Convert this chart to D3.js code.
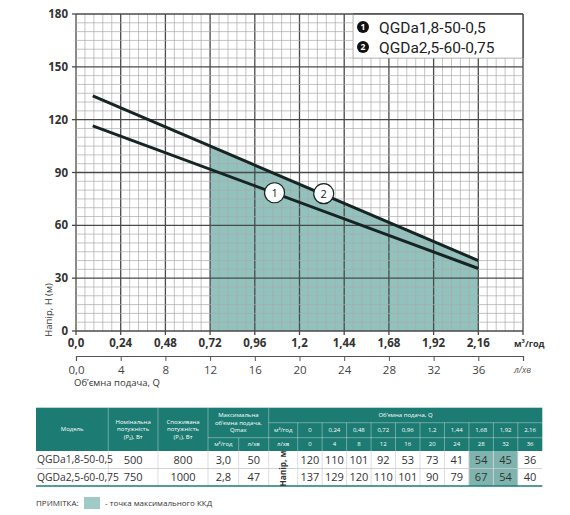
<!DOCTYPE html>
<html>
<head>
<meta charset="utf-8">
<script src="https://d3js.org/d3.v7.min.js"></script>
<style>
body { margin: 0; background: #fff; }
svg { font-family: "Open Sans", "Noto Sans", sans-serif; }
</style>
</head>
<body>
<svg width="570" height="515"></svg>
<script>

// curves (straight lines)
const q1 = [0.09, 2.16], h1 = [116.5, 35.5];
const q2 = [0.09, 2.16], h2 = [133.5, 40];
// shaded zone (max efficiency) under curve 2
const qZone = [0.72, 2.16], hZone = [105, 40];
// numbered markers on the curves
const markQ = [1.066, 1.33], markH = [78.5, 78], markLabel = ["1", "2"];

const legendLabels = ["QGDa1,8-50-0,5", "QGDa2,5-60-0,75"];
const yTicks = [0, 30, 60, 90, 120, 150, 180];
const xTicksM3 = [0, 0.24, 0.48, 0.72, 0.96, 1.2, 1.44, 1.68, 1.92, 2.16];
const xTicksL = [0, 4, 8, 12, 16, 20, 24, 28, 32, 36];

// table
const models = ["QGDa1,8-50-0,5", "QGDa2,5-60-0,75"];
const powerP2 = [500, 750];
const powerP1 = [800, 1000];
const qmaxM3 = ["3,0", "2,8"];
const qmaxL = [50, 47];
const tableQM3 = ["0", "0,24", "0,48", "0,72", "0,96", "1,2", "1,44", "1,68", "1,92", "2,16"];
const tableQL = ["0", "4", "8", "12", "16", "20", "24", "28", "32", "36"];
const headRows = [
  [120, 110, 101, 92, 53, 73, 41, 54, 45, 36],
  [137, 129, 120, 110, 101, 90, 79, 67, 54, 40]
];
const highlightCols = ["1,68", "1,92"];

const teal = "#1c7b73", zoneFill = "#91c2bd", lineCol = "#162424";
const comma = d => d === 0 ? "0,0" : String(d).replace(".", ",");

const svg = d3.select("svg");

const x = d3.scaleLinear().domain([0, 2.4]).range([76, 523]);
const xL = d3.scaleLinear().domain([0, 40]).range([76, 523]);
const y = d3.scaleLinear().domain([0, 180]).range([331, 14]);

// shaded zone
svg.append("path")
  .datum(qZone.map((q, i) => [q, hZone[i]]))
  .attr("fill", zoneFill)
  .attr("d", d3.area().x(d => x(d[0])).y0(y(0)).y1(d => y(d[1])));

// grid
const grid = svg.append("g").attr("class", "grid");
d3.range(0, 51).forEach(function(k) {
  const major = k % 5 === 0;
  grid.append("line")
    .attr("x1", x(k * 0.048)).attr("x2", x(k * 0.048))
    .attr("y1", y(0)).attr("y2", y(180))
    .attr("stroke", major ? "#4a4a4a" : "#aaaaaa")
    .attr("stroke-width", major ? 1.3 : 0.7);
});
d3.range(0, 37).forEach(function(k) {
  const major = k % 6 === 0;
  grid.append("line")
    .attr("y1", y(k * 5)).attr("y2", y(k * 5))
    .attr("x1", x(0)).attr("x2", x(2.4))
    .attr("stroke", major ? "#4a4a4a" : "#aaaaaa")
    .attr("stroke-width", major ? 1.3 : 0.7);
});

// curves
const curve = d3.line().x(d => x(d[0])).y(d => y(d[1]));
[[q1, h1], [q2, h2]].forEach(function(c) {
  svg.append("path")
    .datum(c[0].map((q, i) => [q, c[1][i]]))
    .attr("fill", "none").attr("stroke", lineCol).attr("stroke-width", 3)
    .attr("d", curve);
});

// markers
const mk = svg.selectAll(".mk").data(markLabel).enter().append("g")
  .attr("transform", (d, i) => "translate(" + x(markQ[i]) + "," + y(markH[i]) + ")");
mk.append("circle").attr("r", 10).attr("fill", "#fff").attr("stroke", lineCol).attr("stroke-width", 1.2);
mk.append("text").attr("text-anchor", "middle").attr("dy", "0.36em")
  .attr("font-size", 11).attr("fill", "#222").text(d => d);

// legend
svg.append("rect").attr("x", x(1.488)).attr("y", y(180)).attr("width", x(2.4) - x(1.488))
  .attr("height", y(155) - y(180)).attr("fill", "#fff").attr("stroke", "#aaaaaa").attr("stroke-width", 0.7);
svg.append("line").attr("x1", x(1.488)).attr("x2", x(2.4)).attr("y1", y(180)).attr("y2", y(180))
  .attr("stroke", "#4a4a4a").attr("stroke-width", 1.3);
svg.append("line").attr("x1", x(2.4)).attr("x2", x(2.4)).attr("y1", y(180)).attr("y2", y(155))
  .attr("stroke", "#4a4a4a").attr("stroke-width", 1.3);
const lg = svg.selectAll(".lg").data(legendLabels).enter().append("g")
  .attr("transform", (d, i) => "translate(363," + (27 + i * 20) + ")");
lg.append("circle").attr("r", 6).attr("fill", "#111");
lg.append("text").attr("text-anchor", "middle").attr("dy", "0.36em").attr("font-size", 8.5)
  .attr("font-weight", "bold").attr("fill", "#fff").text((d, i) => i + 1);
lg.append("text").attr("x", 16).attr("dy", "0.36em").attr("font-size", 15.5)
  .attr("font-family", "Roboto, sans-serif").attr("fill", "#222").text(d => d);

// y axis
const ya = svg.append("g");
ya.selectAll("line").data(yTicks).enter().append("line")
  .attr("x1", x(0) - 4).attr("x2", x(0)).attr("y1", d => y(d)).attr("y2", d => y(d))
  .attr("stroke", "#4a4a4a").attr("stroke-width", 1.3);
ya.selectAll("text").data(yTicks).enter().append("text")
  .attr("x", 68).attr("y", d => y(d)).attr("dy", "0.35em").attr("text-anchor", "end")
  .attr("font-size", 11.5).attr("font-weight", "bold").attr("fill", "#333").text(d => d);
svg.append("text").attr("transform", "translate(52,310) rotate(-90)")
  .attr("text-anchor", "middle").attr("font-size", 9.5).attr("fill", "#333").text("Напір, Н (м)");

// x axis m3/h
const xa = svg.append("g");
xa.selectAll("line").data(xTicksM3.concat([2.4])).enter().append("line")
  .attr("x1", d => x(d)).attr("x2", d => x(d)).attr("y1", y(0)).attr("y2", y(0) + 4)
  .attr("stroke", "#4a4a4a").attr("stroke-width", 1.3);
xa.selectAll("text").data(xTicksM3).enter().append("text")
  .attr("x", d => x(d)).attr("y", 347).attr("text-anchor", "middle")
  .attr("font-size", 11.5).attr("font-weight", "bold").attr("fill", "#333").text(comma);
svg.append("text").attr("x", 514).attr("y", 347).attr("font-size", 9).attr("font-weight", "bold")
  .attr("fill", "#333").text("м³/год");

// x axis l/min
const xb = svg.append("g").attr("transform", "translate(0,356)");
xb.call(d3.axisBottom(xL).tickValues(xTicksL.concat([40])).tickSize(5).tickFormat(d => d === 40 ? "" : comma(d)));
xb.select(".domain").attr("stroke", "#555").attr("stroke-width", 1.2);
xb.selectAll(".tick line").attr("stroke", "#555");
xb.selectAll(".tick text").attr("font-size", 11.5).attr("fill", "#444").attr("dy", "0.9em")
  .attr("font-family", "Open Sans, sans-serif");
svg.append("text").attr("x", 514).attr("y", 373).attr("font-size", 9).attr("font-style", "italic")
  .attr("fill", "#555").text("л/хв");
svg.append("text").attr("x", 74).attr("y", 386).attr("font-size", 9.5).attr("fill", "#333")
  .text("Об’ємна подача, Q");

// ---------- table ----------
const T = svg.append("g").attr("font-family", "Open Sans, sans-serif");
const tTop = 407.7, r1 = 422.7, r2 = 437.7, hb = 451, rb = [451, 468.5, 486];
const cx = [36, 108.3, 158, 208, 238.7, 268.7, 297.7, 542.3];
const qx = d3.scaleBand().domain(tableQM3).range([cx[6], cx[7]]);
const sep = "rgba(255,255,255,0.45)";

T.append("rect").attr("x", cx[0]).attr("y", tTop).attr("width", cx[7] - cx[0]).attr("height", hb - tTop).attr("fill", teal);

function hline(x1, x2, yy, c) {
  T.append("line").attr("x1", x1).attr("x2", x2).attr("y1", yy).attr("y2", yy).attr("stroke", c).attr("stroke-width", 0.8);
}
function vline(xx, y1, y2, c) {
  T.append("line").attr("x1", xx).attr("x2", xx).attr("y1", y1).attr("y2", y2).attr("stroke", c).attr("stroke-width", 0.8);
}
function txt(xx, yy, s, o) {
  o = o || {};
  return T.append("text").attr("x", xx).attr("y", yy).attr("text-anchor", "middle").attr("dy", "0.35em")
    .attr("font-size", o.size || 6).attr("fill", o.fill || "#fff").text(s);
}
function multi(xx, yy, lines) {
  lines.forEach((s, i) => txt(xx, yy + (i - (lines.length - 1) / 2) * 7.5, s));
}

// header separators
[cx[1], cx[2], cx[3], cx[5]].forEach(v => vline(v, tTop, hb, sep));
vline(cx[4], r2, hb, sep);
hline(cx[3], cx[5], r2, sep);
hline(cx[5], cx[7], r1, sep);
hline(cx[5], cx[7], r2, sep);
tableQM3.forEach(d => vline(qx(d), r1, hb, sep));

txt((cx[0] + cx[1]) / 2, (tTop + hb) / 2, "Модель");
multi((cx[1] + cx[2]) / 2, (tTop + hb) / 2, ["Номінальна", "потужність", "(P₂), Вт"]);
multi((cx[2] + cx[3]) / 2, (tTop + hb) / 2, ["Споживана", "потужність", "(P₁), Вт"]);
multi((cx[3] + cx[5]) / 2, (tTop + r2) / 2, ["Максимальна", "об’ємна подача,", "Qmax"]);
txt((cx[3] + cx[4]) / 2, (r2 + hb) / 2, "м³/год");
txt((cx[4] + cx[5]) / 2, (r2 + hb) / 2, "л/хв");
txt((cx[5] + cx[7]) / 2, (tTop + r1) / 2, "Об’ємна подача, Q");
txt((cx[5] + cx[6]) / 2, (r1 + r2) / 2, "м³/год");
txt((cx[5] + cx[6]) / 2, (r2 + hb) / 2, "л/хв");
tableQM3.forEach((d, i) => {
  txt(qx(d) + qx.bandwidth() / 2, (r1 + r2) / 2, d);
  txt(qx(d) + qx.bandwidth() / 2, (r2 + hb) / 2, tableQL[i]);
});

// body highlight
highlightCols.forEach(d => {
  T.append("rect").attr("x", qx(d)).attr("y", rb[0]).attr("width", qx.bandwidth())
    .attr("height", rb[2] - rb[0]).attr("fill", "#7fb4ae");
});
// body lines
hline(cx[0], cx[7], rb[1], "#c8c8c8");
cx.slice(1, 7).forEach(v => vline(v, rb[0], rb[2], "#d4d4d4"));
tableQM3.slice(1).forEach(d => vline(qx(d), rb[0], rb[2], "#d4d4d4"));
T.append("line").attr("x1", cx[0]).attr("x2", cx[7]).attr("y1", rb[2]).attr("y2", rb[2])
  .attr("stroke", teal).attr("stroke-width", 1.5);

models.forEach((m, i) => {
  const yy = (rb[i] + rb[i + 1]) / 2;
  const o = { size: 11, fill: "#333" };
  T.append("text").attr("x", cx[0] + 1).attr("y", yy).attr("dy", "0.35em").attr("font-size", 10.3)
    .attr("fill", "#333").text(m);
  txt((cx[1] + cx[2]) / 2, yy, powerP2[i], o);
  txt((cx[2] + cx[3]) / 2, yy, powerP1[i], o);
  txt((cx[3] + cx[4]) / 2, yy, qmaxM3[i], o);
  txt((cx[4] + cx[5]) / 2, yy, qmaxL[i], o);
  headRows[i].forEach((h, j) => txt(qx(tableQM3[j]) + qx.bandwidth() / 2, yy, h, o));
});
T.append("text").attr("transform", "translate(" + ((cx[5] + cx[6]) / 2) + "," + ((rb[0] + rb[2]) / 2) + ") rotate(-90)")
  .attr("text-anchor", "middle").attr("dy", "0.35em").attr("font-size", 8.3).attr("font-weight", "bold")
  .attr("fill", "#333").text("Напір, м");

// note
svg.append("text").attr("x", 36).attr("y", 506).attr("font-size", 8).attr("fill", "#333").text("ПРИМІТКА:");
svg.append("rect").attr("x", 84).attr("y", 497).attr("width", 16).attr("height", 12).attr("fill", "#9fcac5");
svg.append("text").attr("x", 105).attr("y", 506).attr("font-size", 8).attr("fill", "#333").text("- точка максимального ККД");

</script>
</body>
</html>
